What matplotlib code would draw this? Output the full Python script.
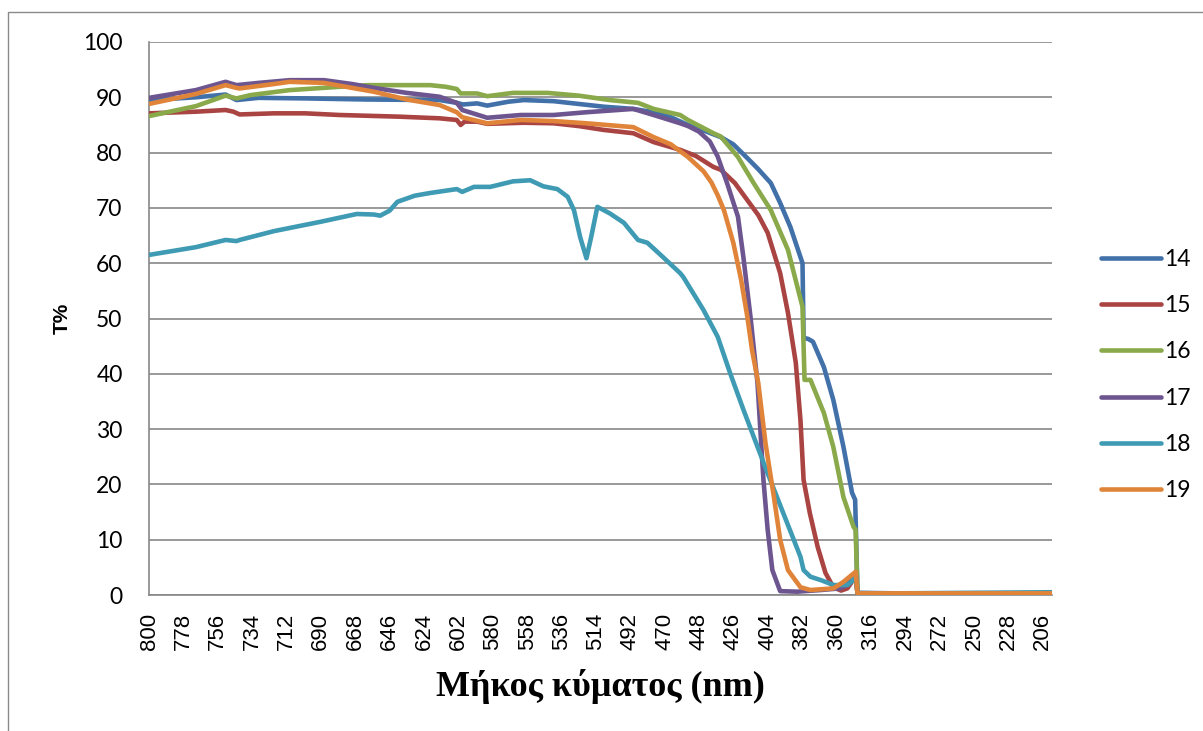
import numpy as np
import matplotlib
matplotlib.use("Agg")
import matplotlib.pyplot as plt
from matplotlib.patches import Rectangle

# x axis is a category axis in the original: one label every 22 categories
tick_wl = [800, 778, 756, 734, 712, 690, 668, 646, 624, 602, 580, 558, 536, 514,
           492, 470, 448, 426, 404, 382, 360, 316, 294, 272, 250, 228, 206]
end_wl = 200

# series: wavelength (nm) and T%
wl_14 = [800, 770, 751, 744, 730, 700, 660, 614, 603, 599, 590, 583.5, 570, 560, 541, 525,
         509, 490, 477, 466, 455, 445, 434, 426, 417, 410, 402, 396, 389.4, 381.7, 381,
         378, 375, 368, 362, 351, 340, 336, 333, 300, 250, 200]
t_14 = [89.5, 90.0, 90.5, 89.5, 89.9, 89.8, 89.6, 89.5, 89.0, 88.7, 88.9, 88.5, 89.2, 89.5,
        89.3, 88.8, 88.3, 87.9, 87.3, 86.4, 85.0, 84.0, 82.8, 81.5, 79.0, 77.0, 74.5, 70.9,
        66.5, 60.0, 46.5, 46.3, 45.8, 41.2, 35.3, 26.8, 18.5, 17.2, 0.4, 0.3, 0.3, 0.3]

wl_15 = [800, 770, 751, 746, 742, 720, 700, 678, 640, 614, 603, 600.5, 598, 590, 583.5, 560,
         541, 525, 509, 490, 477, 460, 450, 438.7, 434, 425, 417, 410, 404, 396, 391, 386,
         383, 381, 377, 372, 367, 362, 354, 346, 341, 336, 333, 300, 250, 200]
t_15 = [87.1, 87.4, 87.7, 87.4, 86.9, 87.1, 87.1, 86.8, 86.5, 86.2, 85.9, 85.0, 85.6, 85.6,
        85.2, 85.4, 85.3, 84.8, 84.1, 83.5, 81.9, 80.5, 79.4, 77.4, 76.9, 74.5, 71.4, 68.7,
        65.5, 58.2, 51.0, 42.0, 31.6, 20.8, 14.8, 8.7, 4.0, 1.4, 0.8, 1.2, 2.2, 4.0, 0.3,
        0.3, 0.3, 0.3]

wl_16 = [800, 770, 751, 744, 735, 710, 678, 660, 620, 610, 603, 600.5, 590, 583.5, 567, 545,
         525, 505, 487, 477, 460, 455, 438.7, 434, 423, 413, 402, 391, 381.7, 380.4, 376.6,
         368, 362, 351, 338, 335.4, 333, 300, 250, 200]
t_16 = [86.6, 88.4, 90.3, 89.8, 90.4, 91.3, 91.9, 92.2, 92.2, 91.9, 91.5, 90.7, 90.7, 90.2,
        90.8, 90.8, 90.3, 89.5, 89.0, 87.9, 86.8, 85.9, 83.5, 82.9, 79.2, 74.5, 69.6, 62.4,
        52.1, 38.9, 38.9, 32.9, 26.8, 17.7, 12.3, 11.8, 0.3, 0.3, 0.3, 0.3]

wl_17 = [800, 770, 751, 744, 730, 710, 688, 670, 656, 635, 614, 603, 599.5, 583.5, 562, 541,
         520, 490, 477, 460, 455, 448, 441, 436, 430, 423, 419.5, 415, 410.5, 408.6, 406.7,
         404, 401, 396, 385, 370, 355, 345, 338, 335.4, 333, 300, 250, 200]
t_17 = [89.9, 91.3, 92.8, 92.2, 92.6, 93.1, 93.1, 92.4, 91.7, 90.8, 90.1, 89.0, 87.7, 86.3,
        86.8, 86.8, 87.3, 87.9, 86.8, 85.3, 84.8, 83.8, 82.0, 79.3, 74.5, 68.4, 61.0, 50.3,
        38.3, 29.5, 20.8, 11.8, 4.5, 0.7, 0.6, 0.9, 1.2, 2.0, 3.4, 4.0, 0.3, 0.3, 0.3, 0.3]

wl_18 = [800, 770, 751, 744, 742, 720, 690, 667, 656, 652, 646, 641, 630, 620, 603, 599.5,
         592, 581.6, 567, 556, 547.6, 538.6, 532, 528, 524, 520, 517, 513, 505, 496, 487,
         481, 471, 460, 458, 445, 436, 428, 419.5, 410.5, 404, 394, 383, 381, 376.6, 370,
         361.8, 345.6, 340, 335.4, 333, 300, 250, 200]
t_18 = [61.5, 62.9, 64.2, 64.0, 64.2, 65.8, 67.5, 68.9, 68.8, 68.6, 69.5, 71.1, 72.2, 72.7,
        73.4, 72.9, 73.8, 73.8, 74.8, 75.0, 73.9, 73.4, 72.0, 69.6, 64.7, 60.9, 64.7, 70.2,
        69.0, 67.3, 64.2, 63.7, 61.1, 58.2, 57.5, 51.5, 46.7, 40.1, 33.5, 26.8, 22.0, 14.8,
        6.9, 4.5, 3.3, 2.7, 1.8, 1.8, 2.5, 4.0, 0.3, 0.3, 0.4, 0.5]

wl_19 = [800, 770, 751, 744, 742, 720, 710, 688, 656, 635, 614, 603, 599.5, 583.5, 562, 541,
         520, 490, 477, 466, 455, 445, 440, 436, 432, 426, 421, 417, 414, 410, 405.4,
         400, 396, 391, 383, 376.6, 361.8, 350.8, 335.4, 333, 300, 250, 200]
t_19 = [88.8, 90.6, 92.2, 91.7, 91.6, 92.4, 92.8, 92.6, 91.0, 89.6, 88.6, 87.3, 86.4, 85.3,
        85.9, 85.7, 85.3, 84.6, 82.8, 81.5, 79.2, 76.6, 74.6, 72.3, 69.6, 63.7, 57.0, 50.3,
        44.3, 38.3, 27.5, 17.7, 10.0, 4.5, 1.4, 0.9, 1.2, 2.4, 4.2, 0.3, 0.3, 0.3, 0.3]

names = ["14", "15", "16", "17", "18", "19"]
wls = [wl_14, wl_15, wl_16, wl_17, wl_18, wl_19]
ts = [t_14, t_15, t_16, t_17, t_18, t_19]
colors = ["#4271AA", "#AA4443", "#89A94A", "#6D5690", "#3F9BB4", "#E0843A"]

# category position of each wavelength (22 categories between labels)
cat_wl = np.array(tick_wl + [end_wl], dtype=float)
cat_pos = np.r_[np.arange(len(tick_wl)) * 22, (len(tick_wl) - 1) * 22 + 6]


def to_pos(w):
    return np.interp(-np.asarray(w, dtype=float), -cat_wl, cat_pos)


fig = plt.figure(figsize=(12.03, 7.31), dpi=100)
ax = fig.add_axes([149 / 1203, 1 - 595 / 731, (1052 - 149) / 1203, (595 - 42) / 731])

grid_c = "#888888"
for i in range(len(names)):
    ax.plot(to_pos(wls[i]), ts[i], color=colors[i], lw=3.3, label=names[i],
            solid_joinstyle="round", solid_capstyle="round", zorder=3 + i)

ax.set_xlim(0, cat_pos[-1])
ax.set_ylim(0, 100)
ax.set_yticks(np.arange(0, 101, 10))
ax.yaxis.grid(True, color=grid_c, lw=1.2)
ax.set_axisbelow(True)
ax.set_xticks(cat_pos[:-1])
ax.set_xticklabels([str(w) for w in tick_wl], rotation=90,
                   fontfamily="Liberation Sans", fontsize=16)
for lab in ax.get_yticklabels():
    lab.set_fontfamily("Lato")
    lab.set_fontsize(16.5)
ax.tick_params(axis="y", length=0, pad=19)
ax.tick_params(axis="x", length=0, pad=13)
for s in ["top", "right"]:
    ax.spines[s].set_visible(False)
for s in ["left", "bottom"]:
    ax.spines[s].set_color(grid_c)
    ax.spines[s].set_linewidth(1.2)

fig.text(600 / 1203, 1 - 687 / 731, "Μήκος κύματος (nm)", ha="center", va="center",
         fontfamily="Liberation Serif", fontweight="bold", fontsize=26)
fig.text(62 / 1203, 1 - 318 / 731, "T%", rotation=90, ha="center", va="center",
         fontfamily="Liberation Sans", fontweight="bold", fontsize=15)

leg = fig.legend(loc="center left", bbox_to_anchor=(1090 / 1203, 1 - 375 / 731),
                 frameon=False, prop={"family": "Lato", "size": 16.5},
                 handlelength=2.6, handletextpad=0.15, labelspacing=1.1, borderpad=0)

# outer chart border (left and top edges visible)
fig.patches.append(Rectangle((8 / 1203, -0.1), 1.2, 1.1 - 12 / 731,
                             transform=fig.transFigure, fill=False,
                             edgecolor="#8a8a8a", lw=1.0))

fig.savefig("out.png", dpi=100)
